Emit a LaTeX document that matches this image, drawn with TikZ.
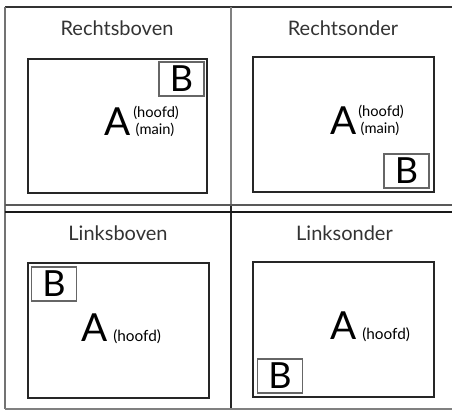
\documentclass[tikz,border=0pt]{standalone}
\usepackage{fontspec}
\setmainfont{Lato}
\usetikzlibrary{positioning}
\tikzset{
  titel/.style = {anchor=base, inner sep=0pt, text=black!80, font=\fontsize{15}{18}\selectfont},
  hoofdbox/.style = {draw=black!85, line width=0.8pt},
  bbox/.style = {draw=black!60, line width=1.1pt, minimum width=33.75pt, minimum height=25.5pt, inner sep=0pt, font=\fontsize{27}{28}\selectfont},
  groot/.style = {anchor=base west, inner sep=0pt, font=\fontsize{29}{30}\selectfont},
  klein/.style = {anchor=base west, inner sep=0pt, font=\fontsize{11.5}{12}\selectfont},
  kleintwee/.style = {anchor=north west, inner sep=0pt, align=left, font=\fontsize{11}{13.2}\selectfont},
}
\begin{document}
\begin{tikzpicture}[x=0.75pt, y=-0.75pt]
  \useasboundingbox (0,0) rectangle (452,411);

  % Raster
  \draw[black!80, line width=0.9pt] (5,7) -- (452,7);
  \draw[black!55, line width=0.9pt] (5,7) -- (5,409);
  \draw[black!50, line width=0.9pt] (231,7) -- (231,205);
  \draw[black!85, line width=0.9pt] (231,205) -- (231,409);
  \draw[black!65, line width=0.9pt] (5,205) -- (452,205);
  \draw[black!90, line width=0.9pt] (5,212) -- (452,212);
  \draw[black!50, line width=0.9pt] (5,409) -- (452,409);

  % Rechtsboven
  \node[titel] (t1) at (117,35) {Rechtsboven};
  \draw[hoofdbox] (28,59) rectangle (207,193);
  \node[bbox] (b1) at (181.5,79) {B};
  \node[groot] (a1) at (104,135) {A};
  \node[kleintwee] (h1) at (133,105.5) {(hoofd)\\\,(main)};

  % Rechtsonder
  \node[titel] (t2) at (343,35) {Rechtsonder};
  \draw[hoofdbox] (253,57) rectangle (434,192);
  \node[bbox] (b2) at (406.5,171) {B};
  \node[groot] (a2) at (330,134) {A};
  \node[kleintwee] (h2) at (358,104.5) {(hoofd)\\\,(main)};

  % Linksboven
  \node[titel] (t3) at (118,240) {Linksboven};
  \draw[hoofdbox] (28,263) rectangle (209,398);
  \node[bbox] (b3) at (54,284) {B};
  \node[groot] (a3) at (81,341) {A};
  \node[klein] (h3) at (113,341) {(hoofd)};

  % Linksonder
  \node[titel] (t4) at (344.5,240) {Linksonder};
  \draw[hoofdbox] (253,262) rectangle (434,397);
  \node[bbox] (b4) at (280,376) {B};
  \node[groot] (a4) at (330,339) {A};
  \node[klein] (h4) at (362,339) {(hoofd)};
\end{tikzpicture}
\end{document}
